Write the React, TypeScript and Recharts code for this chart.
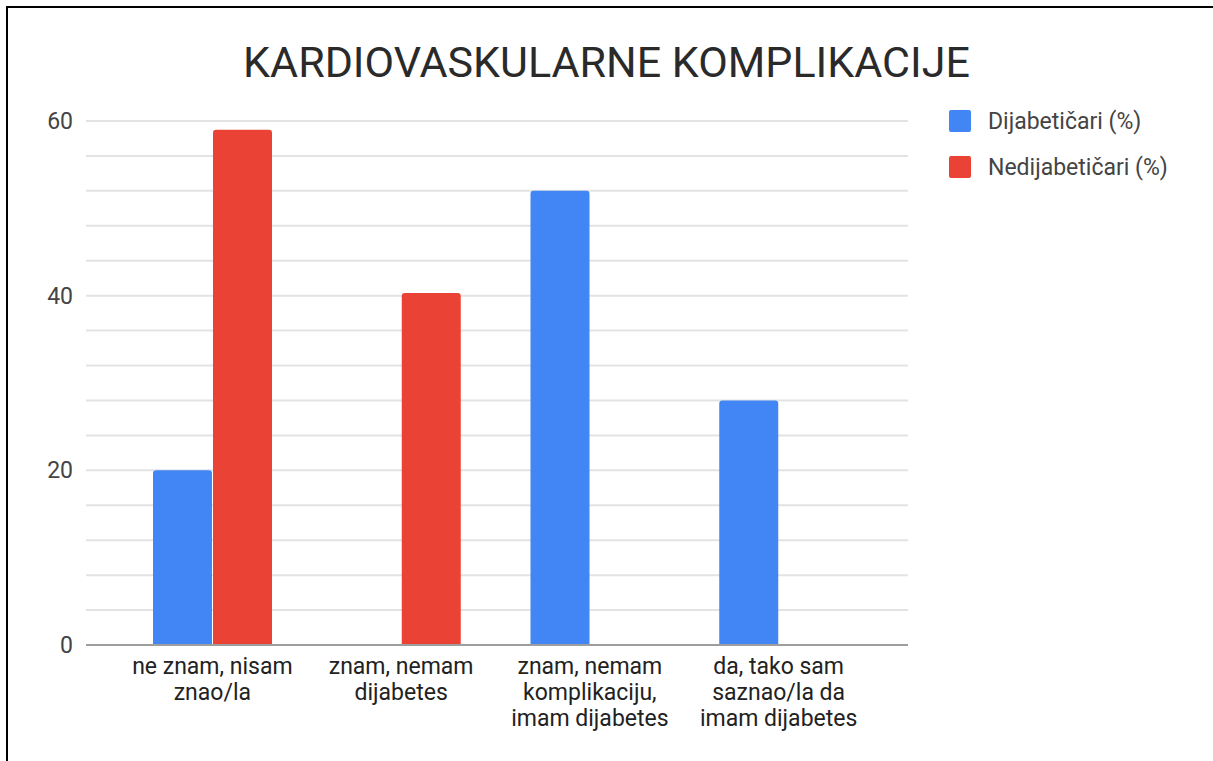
import React from "react";
import { BarChart, Bar, XAxis, YAxis, CartesianGrid } from "recharts";

const categories = [
  "ne znam, nisam\nznao/la",
  "znam, nemam\ndijabetes",
  "znam, nemam\nkomplikaciju,\nimam dijabetes",
  "da, tako sam\nsaznao/la da\nimam dijabetes",
];
const dijabeticari = [20, 0, 52, 28];
const nedijabeticari = [59, 40.3, 0, 0];
const yTicks = [0, 4, 8, 12, 16, 20, 24, 28, 32, 36, 40, 44, 48, 52, 56, 60];
const yLabels = [0, 20, 40, 60];

const SERIES = [
  { key: "dij", name: "Dijabetičari (%)", color: "#4285f4" },
  { key: "nedij", name: "Nedijabetičari (%)", color: "#ea4335" },
];

const data = categories.map((c, i) => ({
  cat: c,
  dij: dijabeticari[i],
  nedij: nedijabeticari[i],
}));

const FONT = "Roboto, Arial, sans-serif";

// multi-line category label under the axis
function CatTick(props: any) {
  const { x, y, payload } = props;
  const lines = String(payload.value).split("\n");
  return (
    <text x={x} y={y} textAnchor="middle" fontFamily={FONT} fontSize={23} fill="#222">
      {lines.map((l, i) => (
        <tspan key={i} x={x} dy={i === 0 ? 21 : 26}>
          {l}
        </tspan>
      ))}
    </text>
  );
}

export default function App() {
  return (
    <div
      style={{
        position: "fixed",
        inset: 0,
        overflow: "hidden",
        background: "#fff",
        fontFamily: FONT,
      }}
    >
      <div
        style={{
          position: "absolute",
          left: 6,
          top: 6,
          width: 1240,
          height: 800,
          border: "2px solid #000",
        }}
      />
      <div
        style={{
          position: "absolute",
          left: 0,
          width: 1213,
          top: 37,
          textAlign: "center",
          fontSize: 43,
          lineHeight: "50px",
          color: "#2a2a2a",
        }}
      >
        KARDIOVASKULARNE KOMPLIKACIJE
      </div>
      <div style={{ position: "absolute", left: 949, top: 108 }}>
        {SERIES.map((s) => (
          <div
            key={s.key}
            style={{ display: "flex", alignItems: "center", height: 26, marginBottom: 20 }}
          >
            <div
              style={{ width: 22, height: 22, background: s.color, borderRadius: 2, marginRight: 17 }}
            />
            <span style={{ fontSize: 23, color: "#444" }}>{s.name}</span>
          </div>
        ))}
      </div>
      <div style={{ position: "absolute", left: 0, top: 0 }}>
        <BarChart
          width={1213}
          height={761}
          data={data}
          margin={{ top: 121, right: 305, bottom: 16, left: 8 }}
          barSize={59}
          barGap={1}
        >
          <CartesianGrid vertical={false} stroke="#e3e3e3" strokeWidth={2} />
          <XAxis
            dataKey="cat"
            interval={0}
            height={100}
            tickLine={false}
            axisLine={{ stroke: "#9e9e9e", strokeWidth: 2 }}
            padding={{ left: 32, right: 35 }}
            tick={<CatTick />}
          />
          <YAxis
            width={78}
            domain={[0, 60]}
            ticks={yTicks}
            interval={0}
            axisLine={false}
            tickLine={false}
            tickSize={0}
            tickMargin={13}
            tickFormatter={(v: number) => (yLabels.includes(v) ? String(v) : "")}
            tick={{ fontFamily: FONT, fontSize: 23, fill: "#444" }}
          />
          {SERIES.map((s) => (
            <Bar
              key={s.key}
              dataKey={s.key}
              name={s.name}
              fill={s.color}
              radius={[3, 3, 0, 0]}
              isAnimationActive={false}
            />
          ))}
        </BarChart>
      </div>
    </div>
  );
}
